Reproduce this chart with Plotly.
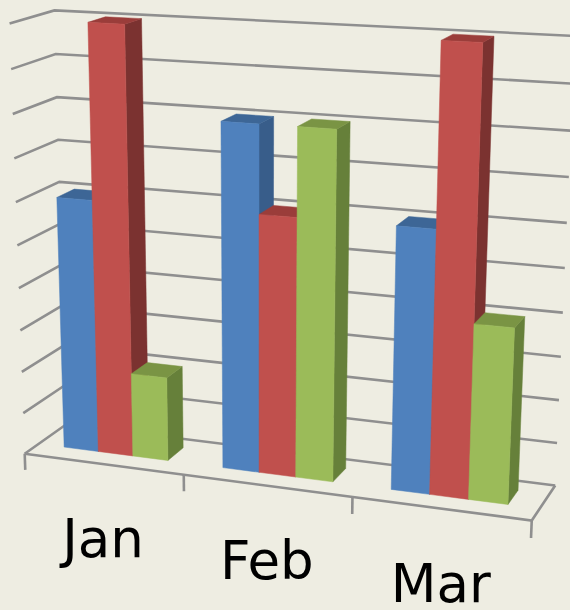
import numpy as np
import plotly.graph_objects as go

categories = ["Jan", "Feb", "Mar"]
blue_values = [6, 8, 6]
red_values = [10, 6, 10]
green_values = [2, 8, 4]
grid_values = list(range(0, 11))

FRONT = ["#4f81bd", "#c0504d", "#9bbb59"]
SIDE = ["#385d8a", "#7b3230", "#66803a"]
TOP = ["#3d6696", "#9a3d3a", "#7a9444"]
BG = "#eeede2"
GRID = "#8f8f8f"
W, H = 570, 610
BAR_START, BAR_END = 0.165, 0.825
DEPTH_START, DEPTH_END = 0.33, 0.74
TICK = 0.4
LABEL_DROP = 80

# View calibration: world (category, depth, value) seen at image (px, py)
view_world = [(0, 0, 0), (0, 0, 10), (0, 1, 0), (0, 1, 10), (3, 1, 0), (3, 1, 10), (3, 0, 0)]
view_image = [(25, 453), (9, 24), (66, 425), (55, 10), (555, 485), (575, 36), (532, 521)]

rows = []
for (a, b, c), (u, v) in zip(view_world, view_image):
    rows.append([a, b, c, 1, 0, 0, 0, 0, -u * a, -u * b, -u * c, -u])
    rows.append([0, 0, 0, 0, a, b, c, 1, -v * a, -v * b, -v * c, -v])
CAM = np.linalg.svd(np.array(rows, float))[2][-1].reshape(3, 4)


def project(points):
    p = CAM @ np.column_stack([np.array(points, float), np.ones(len(points))]).T
    return (p[0] / p[2]).tolist(), (p[1] / p[2]).tolist()


fig = go.Figure()


def line(points, width=2.6):
    xs, ys = project(points)
    fig.add_trace(go.Scatter(x=xs, y=ys, mode="lines", line=dict(color=GRID, width=width),
                             hoverinfo="skip", showlegend=False))


def face(points, color):
    xs, ys = project(points + points[:1])
    fig.add_trace(go.Scatter(x=xs, y=ys, mode="lines", fill="toself", fillcolor=color,
                             line=dict(color=color, width=0.5), hoverinfo="skip", showlegend=False))


for g in grid_values:
    line([(0, 0, g), (0, 1, g), (3, 1, g)])
line([(0, 0, 0), (3, 0, 0), (3, 1, 0)])
for c in range(4):
    line([(c, 0, 0), (c, 0, -TICK)])

all_values = [blue_values, red_values, green_values]
bar_w = (BAR_END - BAR_START) / 3
for ci in range(len(categories)):
    for si, vals in enumerate(all_values):
        x0 = ci + BAR_START + si * bar_w
        x1 = x0 + bar_w
        y0, y1, h = DEPTH_START, DEPTH_END, vals[ci]
        face([(x1, y0, 0), (x1, y1, 0), (x1, y1, h), (x1, y0, h)], SIDE[si])
        face([(x0, y0, h), (x1, y0, h), (x1, y1, h), (x0, y1, h)], TOP[si])
        face([(x0, y0, 0), (x1, y0, 0), (x1, y0, h), (x0, y0, h)], FRONT[si])

lx, ly = project([(i + 0.5, 0, 0) for i in range(len(categories))])
fig.add_trace(go.Scatter(x=lx, y=[v + LABEL_DROP for v in ly], mode="text", text=categories,
                         textfont=dict(family="DejaVu Sans", size=53, color="#000000"),
                         textposition="middle center", cliponaxis=False, hoverinfo="skip", showlegend=False))

fig.update_layout(
    width=W, height=H, margin=dict(l=0, r=0, t=0, b=0, pad=0), paper_bgcolor=BG, plot_bgcolor=BG,
    showlegend=False,
    xaxis=dict(visible=False, range=[0, W], fixedrange=True),
    yaxis=dict(visible=False, range=[H, 0], fixedrange=True),
)
fig.write_html("out.html", config=dict(displayModeBar=False),
               post_script="document.documentElement.style.overflow='hidden';document.body.style.margin='0';document.body.style.background='" + BG + "';")
